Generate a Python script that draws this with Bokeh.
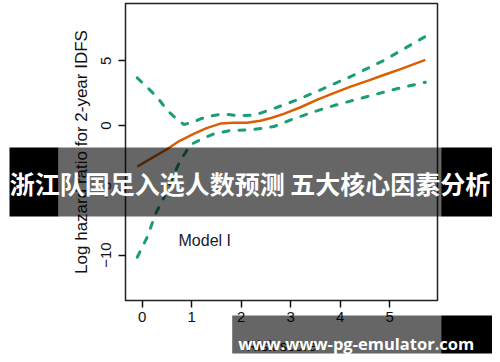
from bokeh.plotting import figure
from bokeh.models import Range1d, Label, FixedTicker
from bokeh.core.properties import value
from bokeh.embed import file_html
from bokeh.resources import INLINE

# ---- data ----
x_ticks = [0, 1, 2, 3, 4, 5]
y_ticks = [-10, -5, 0, 5]

est_x = [-0.1, 0.2, 0.49, 0.75, 1.04, 1.3, 1.58, 1.85, 2.12, 2.39, 2.62, 2.86,
         3.2, 3.54, 3.87, 4.21, 4.55, 4.88, 5.22, 5.72]
est_y = [-3.17, -2.5, -1.85, -1.2, -0.64, -0.2, 0.15, 0.22, 0.22, 0.37, 0.6, 0.9,
         1.41, 2.0, 2.5, 3.0, 3.45, 3.9, 4.35, 5.07]

upper_x = [-0.1, 0.1, 0.3, 0.51, 0.64, 0.84, 1.0, 1.18, 1.4, 1.58, 1.75, 1.95,
           2.2, 2.39, 2.73, 3.13, 3.54, 4.21, 4.88, 5.72]
upper_y = [3.68, 2.95, 2.2, 1.16, 0.7, 0.08, 0.22, 0.52, 0.75, 0.85, 0.85, 0.75,
           0.8, 0.95, 1.41, 1.98, 2.65, 3.78, 5.02, 6.87]

lower_x = [-0.1, 0.1, 0.27, 0.44, 0.6, 0.77, 0.98, 1.2, 1.45, 1.78, 2.25, 2.66,
           3.06, 3.5, 3.87, 4.55, 5.22, 5.72]
lower_y = [-10.17, -8.63, -6.82, -5.54, -4.1, -2.7, -1.47, -1.05, -0.64, -0.39,
           -0.31, -0.08, 0.52, 1.1, 1.54, 2.24, 2.91, 3.34]

x_label = "Risk score"
y_label = "Log hazard ratio for 2-year IDFS"
model_label = "Model I"
banner_text = "浙江队国足入选人数预测 五大核心因素分析"
url_text = "www.www-pg-emulator.com"

# ---- layout ----
W, H = 492, 360
FL, FR, FT, FB = 125, 437, 3, 300  # frame edges in page pixels
X0, X1 = -0.337, 5.966
Y0, Y1 = -13.51, 9.42


def dx(px):
    return X0 + (px - FL) / (FR - FL) * (X1 - X0)


def dy(py):
    return Y1 - (py - FT) / (FB - FT) * (Y1 - Y0)


p = figure(width=W, height=H, output_backend="svg", toolbar_location=None,
           x_range=Range1d(X0, X1), y_range=Range1d(Y0, Y1),
           min_border_left=FL, min_border_right=W - FR,
           min_border_top=FT, min_border_bottom=H - FB)
p.grid.visible = False
p.background_fill_color = "white"
p.border_fill_color = "white"
p.outline_line_color = "#222222"
p.outline_line_width = 1.5
p.outline_line_alpha = 1.0

for ax in (p.xaxis[0], p.yaxis[0]):
    ax.axis_line_color = None
    ax.major_tick_in = 0
    ax.major_tick_out = 7
    ax.major_tick_line_color = "#111111"
    ax.major_tick_line_width = 1.5
    ax.minor_tick_line_color = None
    ax.major_label_text_font = "Liberation Sans"
    ax.major_label_text_font_size = "15px"
    ax.major_label_text_color = "#111111"
    ax.axis_label_text_font = "Liberation Sans"
    ax.axis_label_text_font_style = "normal"
    ax.axis_label_text_color = "#111111"

p.xaxis.axis_label_text_font_size = "15px"
p.yaxis.axis_label_text_font_size = "17px"
p.xaxis.ticker = FixedTicker(ticks=x_ticks)
p.yaxis.ticker = FixedTicker(ticks=y_ticks)
p.yaxis.major_label_overrides = {t: str(t).replace("-", "\u2212") for t in y_ticks}
p.yaxis.major_label_orientation = "vertical"
p.xaxis.axis_label = x_label
p.yaxis.axis_label = y_label
p.xaxis.major_label_standoff = 4
p.xaxis.axis_label_standoff = 12
p.yaxis.major_label_standoff = 7
p.yaxis.axis_label_standoff = 8

green = "#1B9E77"
orange = "#D95F02"
p.line(upper_x, upper_y, line_color=green, line_width=3, line_dash="6 10", line_cap="round")
p.line(lower_x, lower_y, line_color=green, line_width=3, line_dash="6 10", line_cap="round")
p.line(est_x, est_y, line_color=orange, line_width=2.5)

p.add_layout(Label(x=dx(178), y=dy(240), text=model_label, text_font="Liberation Sans",
                   text_font_size="16px", text_color="#1a1a2a", text_baseline="middle",
                   text_align="left"))

# ---- overlay banners (overlay level, not clipped to the frame) ----
band_l = [dx(9), dx(58), dx(440.7), dx(231.7), dx(440.7)]
band_r = [dx(58), dx(440.7), dx(491.7), dx(440.7), dx(491.7)]
band_t = [dy(147), dy(147), dy(147), dy(315), dy(315)]
band_b = [dy(216), dy(216), dy(216), dy(353), dy(353)]
band_a = [1.0, 0.6, 1.0, 0.6, 1.0]
p.quad(left=band_l, right=band_r, top=band_t, bottom=band_b, fill_color="black",
       fill_alpha=band_a, line_color=None, level="overlay")

p.text(x=[dx(249.5)], y=[dy(182)], text=[banner_text], text_font=value("Noto Sans CJK SC"),
       text_font_size="25px", text_font_style="bold", text_color="white",
       text_align="center", text_baseline="middle", level="overlay")
p.text(x=[dx(355.7)], y=[dy(342.7)], text=[url_text], text_font=value("Open Sans"),
       text_font_size="16.5px", text_font_style="bold", text_color="white",
       text_align="center", text_baseline="alphabetic", level="overlay")

open("out.html", "w").write(file_html(p, INLINE))
